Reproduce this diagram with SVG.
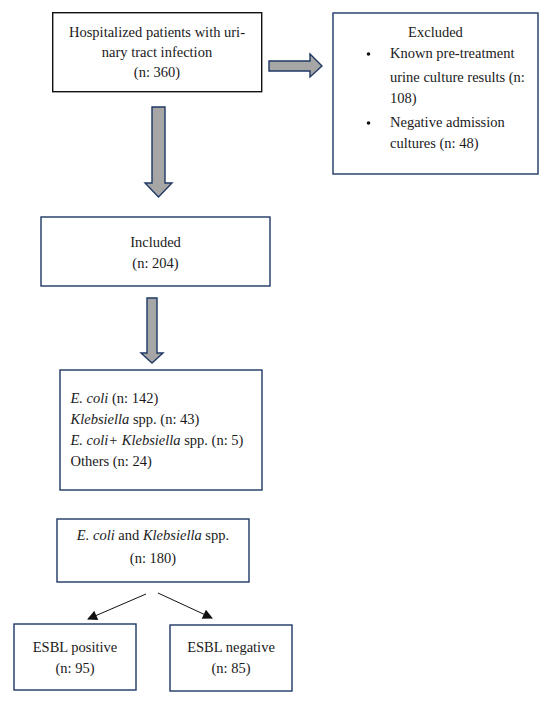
<svg xmlns="http://www.w3.org/2000/svg" width="550" height="702" viewBox="0 0 550 702">
<style>
text{font-family:"Liberation Serif","Times New Roman",serif;font-size:14.5px;fill:#1a1a1a}
.c{text-anchor:middle}
.box{fill:#fff;stroke:#1f3864;stroke-width:1.4}
.box0{fill:#fff;stroke:#111;stroke-width:1.4}
.fat{fill:#a6a6a6;stroke:#1f3864;stroke-width:1.4;stroke-linejoin:miter}
.thin{stroke:#111;stroke-width:1;fill:none}
</style>
<defs>
<marker id="ah" viewBox="0 0 10 10" refX="9" refY="5" markerWidth="11" markerHeight="10" markerUnits="userSpaceOnUse" orient="auto">
<path d="M0,0 L10,5 L0,10 Z" fill="#111"/>
</marker>
</defs>
<rect width="550" height="702" fill="#fff"/>
<g id="connectors">
<path class="fat" d="M269,61 H310 V54 L322,66 L310,77 V71 H269 Z"/>
<path class="fat" d="M152,107 H165 V183 H172 L158.5,197 L145,183 H152 Z"/>
<path class="fat" d="M147,298 H157 V353 H163 L152,363 L141,353 H147 Z"/>
<line class="thin" x1="146" y1="594" x2="88" y2="619" marker-end="url(#ah)"/>
<line class="thin" x1="158" y1="593" x2="212" y2="618" marker-end="url(#ah)"/>
</g>
<g id="n1">
<rect class="box0" x="52.7" y="12.7" width="209" height="79"/>
<text class="c" x="157" y="37">Hospitalized patients with uri-</text>
<text class="c" x="157" y="57">nary tract infection</text>
<text class="c" x="157" y="77">(n: 360)</text>
</g>
<g id="excluded">
<rect class="box" x="333" y="13" width="205" height="161"/>
<text class="c" x="435.5" y="37">Excluded</text>
<circle cx="368.5" cy="54" r="1.8" fill="#111"/>
<text x="390" y="58">Known pre-treatment</text>
<text x="390" y="82">urine culture results (n:</text>
<text x="390" y="103">108)</text>
<circle cx="368.5" cy="123" r="1.8" fill="#111"/>
<text x="390" y="127">Negative admission</text>
<text x="390" y="148">cultures (n: 48)</text>
</g>
<g id="included">
<rect class="box" x="41" y="217" width="229" height="69"/>
<text class="c" x="155.5" y="247">Included</text>
<text class="c" x="155.5" y="268">(n: 204)</text>
</g>
<g id="organisms">
<rect class="box" x="60" y="370" width="202" height="120"/>
<text x="70.5" y="403"><tspan font-style="italic">E. coli</tspan> (n: 142)</text>
<text x="70.5" y="424"><tspan font-style="italic">Klebsiella</tspan> spp. (n: 43)</text>
<text x="70.5" y="445"><tspan font-style="italic">E. coli+ Klebsiella</tspan> spp. (n: 5)</text>
<text x="70.5" y="466">Others (n: 24)</text>
</g>
<g id="ecoli-kleb">
<rect class="box" x="57" y="519" width="192" height="63"/>
<text class="c" x="153" y="540"><tspan font-style="italic">E. coli</tspan> and <tspan font-style="italic">Klebsiella</tspan> spp.</text>
<text class="c" x="153" y="563">(n: 180)</text>
</g>
<g id="esbl-pos">
<rect class="box" x="14" y="624" width="122" height="66"/>
<text class="c" x="75" y="652">ESBL positive</text>
<text class="c" x="75" y="673">(n: 95)</text>
</g>
<g id="esbl-neg">
<rect class="box" x="170" y="625" width="122" height="66"/>
<text class="c" x="231" y="652">ESBL negative</text>
<text class="c" x="231" y="673">(n: 85)</text>
</g>
</svg>
